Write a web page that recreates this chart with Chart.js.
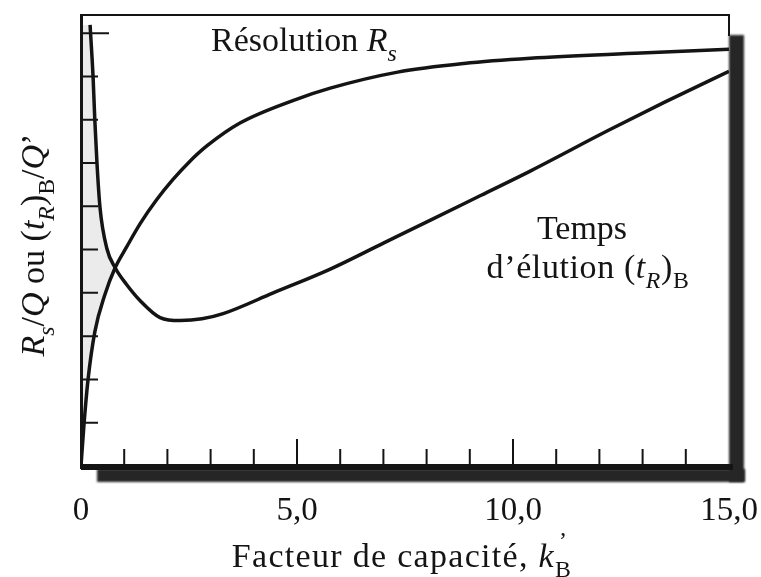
<!DOCTYPE html>
<html lang="fr">
<head>
<meta charset="UTF-8">
<title>Résolution et temps d'élution</title>
<script src="https://cdn.jsdelivr.net/npm/chart.js"></script>
<style>
  body { margin: 0; background: #fff; }
  #chart { display: block; }
</style>
</head>
<body>
<canvas id="chart" width="761" height="577"></canvas>
<script>
// Résolution Rs en fonction du facteur de capacité k'B
const kRs = [0, 0.07, 0.16, 0.32, 0.55, 0.79, 1.05, 1.37, 1.75, 2.13, 2.5, 2.92, 3.69, 4.92, 5.77, 7.33, 8.86, 10.4, 12.96, 15.0];
const rsValues = [0, 0.97, 1.97, 3.1, 3.95, 4.58, 5.05, 5.6, 6.15, 6.62, 7.02, 7.4, 7.93, 8.45, 8.73, 9.1, 9.3, 9.42, 9.54, 9.63];

// Temps d'élution (tR)B
const kTime = [0.21, 0.28, 0.32, 0.37, 0.44, 0.6, 0.79, 1.05, 1.37, 1.83, 2.3, 2.8, 3.29, 4.45, 5.77, 7.0, 8.09, 9.25, 10.41, 12.2, 13.5, 15.0];
const timeValues = [10.19, 8.98, 7.99, 6.99, 5.97, 5.02, 4.58, 4.2, 3.82, 3.43, 3.36, 3.4, 3.52, 4.0, 4.55, 5.15, 5.68, 6.25, 6.82, 7.75, 8.4, 9.12];

// graduations de l'axe x
const xLabelValues = [0, 5, 10, 15];
const xLabelText = ['0', '5,0', '10,0', '15,0'];

// point de croisement des deux courbes (fin de la zone grisée)
const crossK = 0.79;

const ink = '#141414';
const serif = '"Liberation Serif", "Times New Roman", serif';
const font = (size, italic) => (italic ? 'italic ' : '') + size + 'px ' + serif;

// zone grisée : sous le temps d'élution, au-dessus de Rs, jusqu'au croisement
const shade = [{ x: 0, y: timeValues[0] }]
  .concat(kTime.map((k, i) => ({ x: k, y: timeValues[i] })).filter(p => p.x <= crossK))
  .concat(kRs.map((k, i) => ({ x: k, y: rsValues[i] })).filter(p => p.x <= crossK).reverse());

// texte avec italiques et indices
function drawRich(ctx, runs, x, y, size, align, spacing) {
  ctx.letterSpacing = (spacing || 0) + 'px';
  const parts = runs.map(r => {
    const s = (r.sub || r.up) ? size * 0.7 : size;
    ctx.font = font(s, r.i);
    return Object.assign({}, r, { s: s, w: ctx.measureText(r.t).width });
  });
  const total = parts.reduce((a, p) => a + (p.up ? 0 : p.w), 0);
  let cx = align === 'center' ? x - total / 2 : x;
  ctx.textAlign = 'left';
  ctx.textBaseline = 'alphabetic';
  for (const p of parts) {
    ctx.font = font(p.s, p.i);
    let dy = 0;
    if (p.sub) dy = size * 0.28;
    if (p.up) dy = -size * 0.55;
    ctx.fillText(p.t, cx + (p.dx || 0), y + dy);
    if (!p.up) cx += p.w;
  }
  ctx.letterSpacing = '0px';
}

const framePlugin = {
  id: 'frame',
  afterDraw(chart) {
    const { ctx, chartArea: a, scales: { x, y } } = chart;
    ctx.save();

    // ombre portée à droite et en bas
    ctx.filter = 'blur(1.2px)';
    ctx.fillStyle = '#262626';
    ctx.fillRect(a.right, a.top + 20, 15, a.bottom - a.top - 4);
    ctx.fillRect(a.left + 16, a.bottom + 3, a.right - a.left, 13);
    ctx.filter = 'none';

    ctx.fillStyle = ink;
    ctx.strokeStyle = ink;
    // cadre
    ctx.fillRect(a.left, a.top - 1, a.right - a.left, 2);
    ctx.fillRect(a.right - 1, a.top - 1, 2, 22);
    ctx.fillRect(a.left - 1, a.top - 1, 3, a.bottom - a.top + 4);
    ctx.fillRect(a.left, a.bottom - 2, a.right - a.left + 4, 6);

    // graduations intérieures
    ctx.lineWidth = 2;
    ctx.beginPath();
    y.ticks.forEach(t => {
      if (t.value <= 0 || !Number.isInteger(t.value)) return;
      const py = y.getPixelForValue(t.value);
      const len = t.value === 10 ? 28 : 17;
      ctx.moveTo(a.left, py);
      ctx.lineTo(a.left + len, py);
    });
    x.ticks.forEach(t => {
      if (t.value <= 0 || t.value >= 15) return;
      const px = x.getPixelForValue(t.value);
      const len = t.value % 5 === 0 ? 27 : 17;
      ctx.moveTo(px, a.bottom);
      ctx.lineTo(px, a.bottom - len);
    });
    ctx.stroke();

    ctx.fillStyle = ink;
    // annotations des courbes
    drawRich(ctx, [{ t: 'Résolution ' }, { t: 'R', i: true }, { t: 's', i: true, sub: true }], 211, 51, 34, 'left');
    drawRich(ctx, [{ t: 'Temps' }], 582, 239, 34, 'center');
    drawRich(ctx, [{ t: 'd’élution (' }, { t: 't', i: true }, { t: 'R', i: true, sub: true }, { t: ')' }, { t: 'B', sub: true }], 588, 278, 34, 'center', 0.6);

    // titre de l'axe x
    drawRich(ctx, [{ t: 'Facteur de capacité, ' }, { t: 'k', i: true }, { t: '’', up: true, dx: 4 }, { t: 'B', sub: true }], 402, 567, 34, 'center', 1.3);

    // titre de l'axe y
    ctx.translate(44, 245);
    ctx.rotate(-Math.PI / 2);
    drawRich(ctx, [
      { t: 'R', i: true }, { t: 's', i: true, sub: true }, { t: '/' }, { t: 'Q', i: true },
      { t: ' ou (' }, { t: 't', i: true }, { t: 'R', i: true, sub: true }, { t: ')' }, { t: 'B', sub: true },
      { t: '/' }, { t: 'Q', i: true }, { t: '’' }
    ], 0, 0, 34, 'center');
    ctx.restore();
  }
};

new Chart(document.getElementById('chart'), {
  type: 'line',
  data: {
    datasets: [
      {
        label: 'Résolution Rs',
        data: kRs.map((k, i) => ({ x: k, y: rsValues[i] })),
        borderColor: ink,
        borderWidth: 3.5,
        pointRadius: 0,
        cubicInterpolationMode: 'monotone',
        fill: false
      },
      {
        label: "Temps d'élution (tR)B",
        data: kTime.map((k, i) => ({ x: k, y: timeValues[i] })),
        borderColor: ink,
        borderWidth: 3.5,
        pointRadius: 0,
        cubicInterpolationMode: 'monotone',
        fill: false
      },
      {
        label: 'zone',
        data: shade,
        borderWidth: 0,
        borderColor: 'rgba(0,0,0,0)',
        backgroundColor: '#ebebeb',
        pointRadius: 0,
        tension: 0,
        fill: 'shape'
      }
    ]
  },
  options: {
    responsive: false,
    animation: false,
    devicePixelRatio: 1,
    layout: { padding: { left: 81, right: 32, top: 15, bottom: 0 } },
    plugins: {
      legend: { display: false },
      tooltip: { enabled: false }
    },
    scales: {
      x: {
        type: 'linear',
        min: 0,
        max: 15,
        grid: { display: false, drawTicks: false },
        border: { display: false },
        ticks: {
          stepSize: 1,
          autoSkip: false,
          maxRotation: 0,
          padding: 26,
          color: ink,
          font: { family: serif, size: 33 },
          callback: v => {
            const i = xLabelValues.indexOf(v);
            return i >= 0 ? xLabelText[i] : '';
          }
        },
        afterFit: s => { s.height = 111; s.paddingLeft = 0; s.paddingRight = 0; }
      },
      y: {
        min: 0,
        max: 10.42,
        grid: { display: false, drawTicks: false },
        border: { display: false },
        ticks: { display: false, stepSize: 1 },
        afterFit: s => { s.width = 0; s.paddingTop = 0; s.paddingBottom = 0; }
      }
    }
  },
  plugins: [framePlugin]
});
</script>
</body>
</html>
